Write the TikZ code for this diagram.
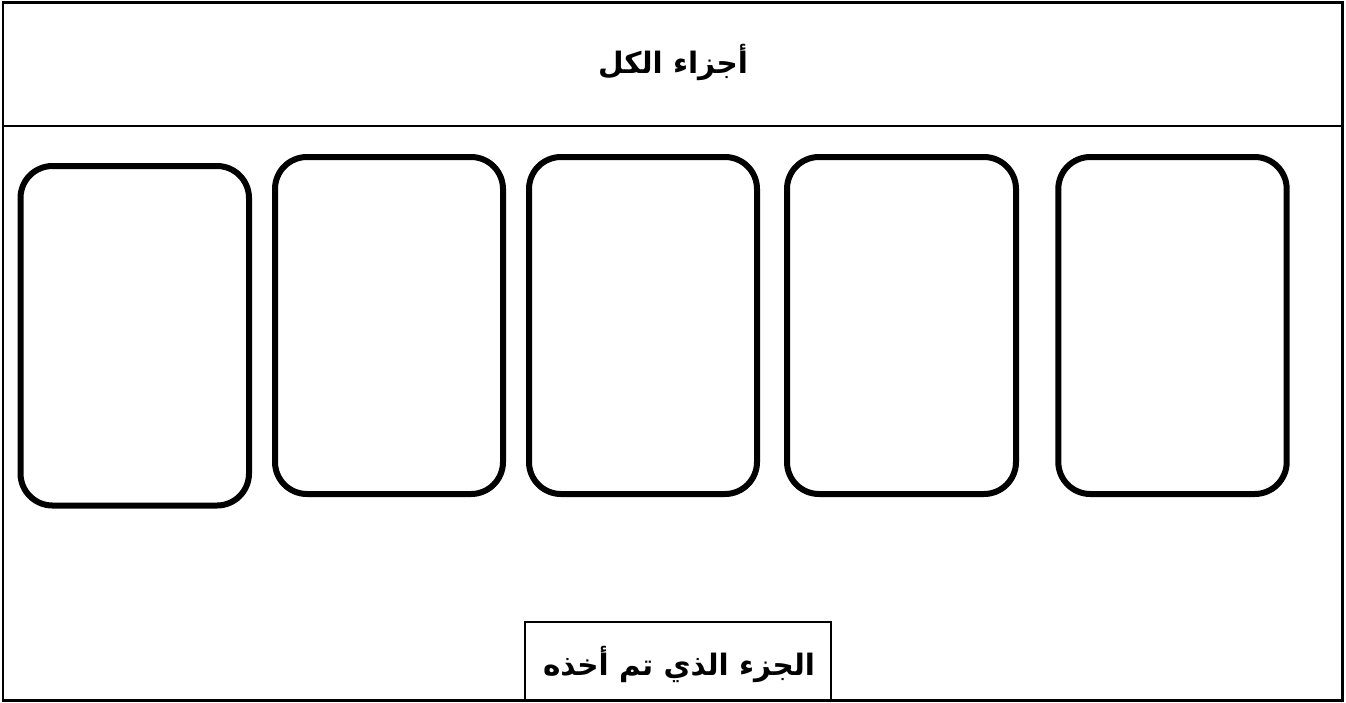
\documentclass[tikz,border=0pt]{standalone}
\usepackage{fontspec}
\TeXXeTstate=1
\newfontfamily\arabicfont[Script=Arabic]{DejaVu Sans}
\begin{document}
\begin{tikzpicture}[x=1pt,y=-1pt,
  frameline/.style={draw=black,line width=2.4pt},
  card/.style={draw=black,line width=6pt,rounded corners=32pt},
  lbl/.style={font=\arabicfont\bfseries\fontsize{29.5}{34}\selectfont,inner sep=0pt}]
\useasboundingbox (0,0) rectangle (1346,702);
\fill[white] (0,0) rectangle (1346,702);
% outer frame and divider
\draw[frameline] (3,2.5) rectangle (1342.5,700.5);
\coordinate (dl) at (3,126);
\coordinate (dr) at (1342.5,126);
\draw[frameline] (dl) -- (dr);
% title
\node[lbl] (title) at (673,62) {\beginR أجزاء الكل\endR};
% cards
\draw[card] (20.5,166) rectangle (249,505.5);
\draw[card] (275,157) rectangle (503,494);
\draw[card] (529,157) rectangle (757,494);
\draw[card] (787,157) rectangle (1016,494);
\draw[card] (1058.3,157) rectangle (1286.7,494);
% bottom box
\draw[frameline] (525,700.5) -- (525,622) -- (831,622) -- (831,700.5);
\node[lbl] (taken) at (679,664) {\beginR الجزء الذي تم أخذه\endR};
\end{tikzpicture}
\end{document}
